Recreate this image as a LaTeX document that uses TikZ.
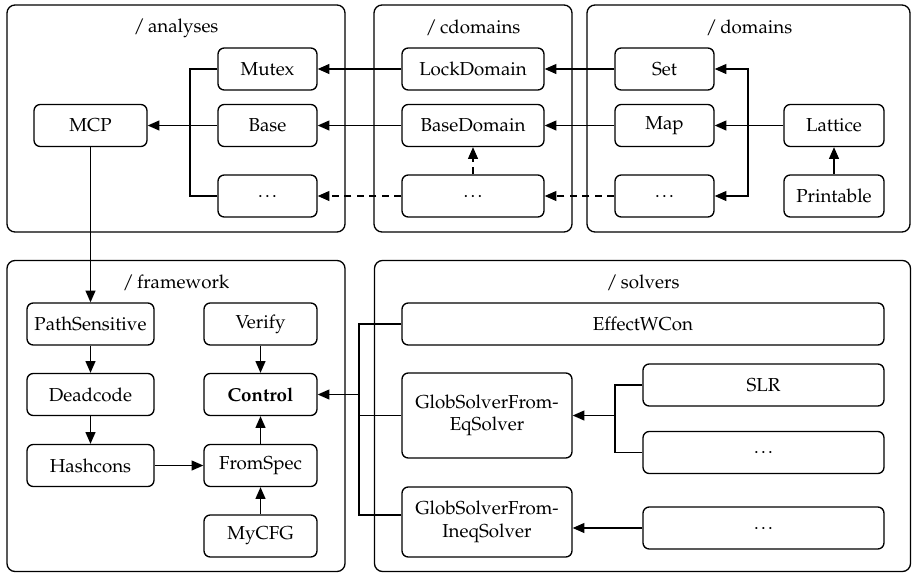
\documentclass[tikz,border=0pt]{standalone}
\usepackage[T1]{fontenc}
\usepackage{mathpazo}
\usetikzlibrary{arrows.meta}
\newcommand{\mydots}{.\kern1.3pt.\kern1.3pt.}
\begin{document}
\begin{tikzpicture}[x=0.56pt,y=-0.56pt,
  font=\fontsize{10.5}{12.6}\selectfont,
  bw/.style={minimum width=#1*0.56pt},
  bh/.style={minimum height=#1*0.56pt},
  grp/.style={draw,rounded corners=4.5pt,line width=0.75pt,inner sep=0pt},
  nd/.style={draw,rounded corners=3.5pt,line width=0.75pt,inner sep=0pt,bh=42,align=center},
  ttl/.style={inner sep=0pt},
  conn/.style={line width=0.75pt},
  arr/.style={conn,-{Triangle[length=6.5pt,width=5.5pt]}},
  darr/.style={arr,dash pattern=on 4pt off 3pt},
]
\useasboundingbox (0,0) rectangle (912,573);

% group boxes
\node[grp,bw=338,bh=227] (ganalyses) at (176,118.5) {};
\node[grp,bw=198,bh=227] (gcdomains) at (473,118.5) {};
\node[grp,bw=323,bh=227] (gdomains) at (748.5,118.5) {};
\node[grp,bw=338,bh=311] (gframework) at (176,416) {};
\node[grp,bw=536,bh=311] (gsolvers) at (642.5,416) {};

\node[ttl] (tanalyses) at (176,28) {/\,analyses};
\node[ttl] (tcdomains) at (473,28) {/\,cdomains};
\node[ttl] (tdomains) at (749,28) {/\,domains};
\node[ttl] (tframework) at (176,283) {/\,framework};
\node[ttl] (tsolvers) at (643,283) {/\,solvers};

% analyses
\node[nd,bw=99] (mutex) at (267.5,69) {Mutex};
\node[nd,bw=99] (base) at (267.5,125.5) {Base};
\node[nd,bw=99] (adots) at (267.5,196) {\mydots};
\node[nd,bw=113] (mcp) at (90.5,125.5) {MCP};
% cdomains
\node[nd,bw=142] (lock) at (473,69) {LockDomain};
\node[nd,bw=142] (based) at (473,125.5) {BaseDomain};
\node[nd,bw=142] (cdots) at (473,196) {\mydots};
% domains
\node[nd,bw=99] (set) at (664.5,69) {Set};
\node[nd,bw=99] (map) at (664.5,125.5) {Map};
\node[nd,bw=99] (ddots) at (664.5,196) {\mydots};
\node[nd,bw=100] (lattice) at (834,125.5) {Lattice};
\node[nd,bw=100] (printable) at (834,196) {Printable};
% framework
\node[nd,bw=127] (pathsens) at (90.5,324) {PathSensitive};
\node[nd,bw=127] (deadcode) at (90.5,394.5) {Deadcode};
\node[nd,bw=127] (hashcons) at (90.5,465.5) {Hashcons};
\node[nd,bw=113] (verify) at (260.5,324) {Verify};
\node[nd,bw=113] (control) at (260.5,394.5) {\textbf{Control}};
\node[nd,bw=113] (fromspec) at (260.5,465.5) {FromSpec};
\node[nd,bw=113] (mycfg) at (260.5,536) {MyCFG};
% solvers
\node[nd,bw=482] (effect) at (643,324) {EffectWCon};
\node[nd,bw=170,bh=85] (globeq) at (487,415.5) {GlobSolverFrom-\\EqSolver};
\node[nd,bw=170,bh=70] (globineq) at (487,522) {GlobSolverFrom-\\IneqSolver};
\node[nd,bw=241] (slr) at (763.5,385) {SLR};
\node[nd,bw=241] (sdots2) at (763.5,452.5) {\mydots};
\node[nd,bw=241] (sdots3) at (763.5,528) {\mydots};

% junction coordinates
\coordinate (ja) at (190,125.5);
\coordinate (jd) at (748,125.5);
\coordinate (js) at (359,394.5);
\coordinate (jq) at (615,415.5);

% top connectors
\draw[arr] (lock.west) -- (mutex.east);
\draw[arr] (based.west) -- (base.east);
\draw[arr] (set.west) -- (lock.east);
\draw[arr] (map.west) -- (based.east);
\draw[arr] (lattice.west) -- (map.east);
\draw[arr] (jd) |- (set.east);
\draw[arr] (jd) |- (ddots.east);
\draw[arr] (printable.north) -- (lattice.south);
\draw[darr] (ddots.west) -- (cdots.east);
\draw[darr] (cdots.west) -- (adots.east);
\draw[darr] (cdots.north) -- (based.south);
\draw[conn] (mutex.west) -| (ja);
\draw[conn] (adots.west) -| (ja);
\draw[arr] (base.west) -- (mcp.east);

% framework connectors
\draw[arr] (mcp.south) -- (pathsens.north);
\draw[arr] (pathsens.south) -- (deadcode.north);
\draw[arr] (deadcode.south) -- (hashcons.north);
\draw[arr] (hashcons.east) -- (fromspec.west);
\draw[arr] (mycfg.north) -- (fromspec.south);
\draw[arr] (fromspec.north) -- (control.south);
\draw[arr] (verify.south) -- (control.north);

% solvers connectors
\draw[conn] (effect.west) -| (js);
\draw[conn] (globeq.west) -| (js);
\draw[conn] ([yshift=3.9pt]globineq.west) -| (js);
\draw[arr] (js) -- (control.east);
\draw[conn] (slr.west) -| (jq);
\draw[conn] (sdots2.west) -| (jq);
\draw[arr] (jq) -- (globeq.east);
\draw[arr] (sdots3.west) -- (sdots3.west -| globineq.east);
\end{tikzpicture}
\end{document}
